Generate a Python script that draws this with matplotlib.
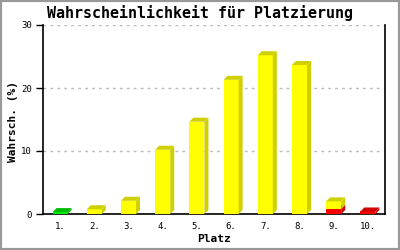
import matplotlib
matplotlib.use("Agg")
import matplotlib.pyplot as plt
from matplotlib.patches import Polygon, Rectangle

places = ["1.", "2.", "3.", "4.", "5.", "6.", "7.", "8.", "9.", "10."]
green = [0.3, 0, 0, 0, 0, 0, 0, 0, 0, 0]
red = [0, 0, 0, 0, 0, 0, 0, 0, 0.8, 0.4]
yellow = [0, 0.75, 2.1, 10.2, 14.65, 21.3, 25.2, 23.65, 1.2, 0]

fig = plt.figure(figsize=(4, 2.5), dpi=100)
ax = fig.add_axes([43 / 400, 36 / 250, 342 / 400, 189 / 250])
ax.set_xlim(0.5, 10.5)
ax.set_ylim(0, 30)

w = 0.44
# 3D depth in data units (about 4 px each way)
dx = 4 / 34.2
dy = 4 / 6.3

def bar3d(x, bottom, h, front, dark):
    if h <= 0:
        return
    x0, x1 = x - w / 2, x + w / 2
    top = bottom + h
    ax.add_patch(Rectangle((x0, bottom), w, h, facecolor=front, edgecolor="none", zorder=3))
    ax.add_patch(Polygon([(x1, bottom), (x1 + dx, bottom + dy), (x1 + dx, top + dy), (x1, top)],
                         closed=True, facecolor=dark, edgecolor="none", zorder=3))
    ax.add_patch(Polygon([(x0, top), (x0 + dx, top + dy), (x1 + dx, top + dy), (x1, top)],
                         closed=True, facecolor=dark, edgecolor="none", zorder=3))

for i in range(len(places)):
    x = i + 1
    base = 0
    bar3d(x, base, green[i], "#00ee00", "#00bb00")
    base += green[i]
    bar3d(x, base, red[i], "#ff0000", "#cc0000")
    base += red[i]
    bar3d(x, base, yellow[i], "#ffff00", "#d0d000")

ax.set_xticks(range(1, 11))
ax.set_xticklabels(places, family="DejaVu Sans Mono", fontsize=6.5)
ax.tick_params(axis="x", length=0, pad=6)
ax.set_yticks([0, 10, 20, 30])
ax.set_yticklabels(["0", "10", "20", "30"], family="DejaVu Sans Mono", fontsize=6.5)
ax.tick_params(axis="y", length=5, width=1, direction="out", pad=3)
ax.yaxis.grid(True, linestyle=(0, (2, 3)), color="#bbbbbb", linewidth=1)
ax.set_axisbelow(True)
ax.spines["top"].set_visible(False)
for s in ["left", "bottom", "right"]:
    ax.spines[s].set_linewidth(1.2)

fig.text(13 / 400, 1 - 121 / 250, "Wahrsch. (%)", rotation=90, ha="center", va="center",
         fontsize=8, fontweight="bold", family="DejaVu Sans Mono")
fig.text(214 / 400, 1 - 239 / 250, "Platz", ha="center", va="center",
         fontsize=8, fontweight="bold", family="DejaVu Sans Mono")
fig.text(0.5, 1 - 13 / 250, "Wahrscheinlichkeit für Platzierung", ha="center", va="center",
         fontsize=10.8, fontweight="bold", family="DejaVu Sans Mono")

fig.patches.append(Rectangle((0, 0), 1, 1, transform=fig.transFigure, fill=False,
                             edgecolor="#999999", linewidth=3))

fig.savefig("out.png", dpi=100)
